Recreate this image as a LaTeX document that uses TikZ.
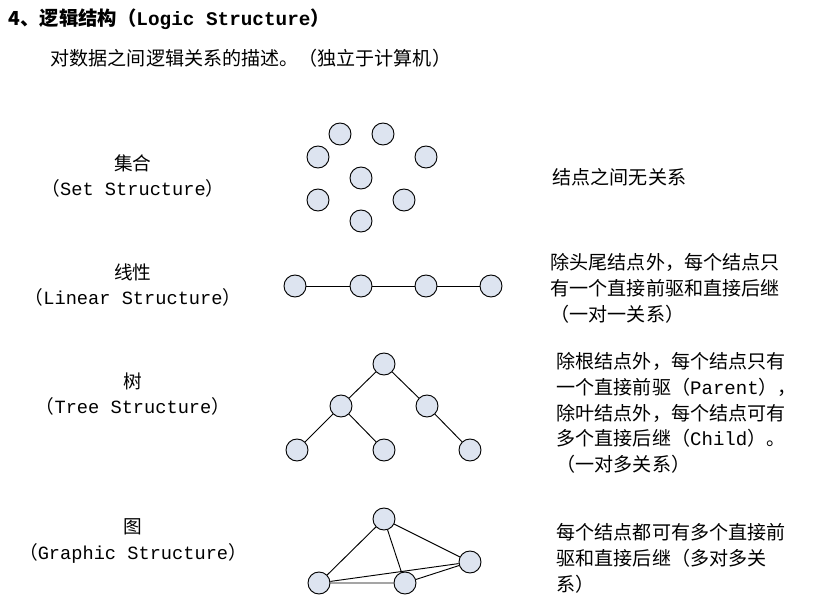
\documentclass[tikz,border=0pt]{standalone}
\usepackage{fontspec}
\setmainfont{Noto Sans CJK SC}
\newfontfamily\lat{Liberation Mono}
\begin{document}
\begin{tikzpicture}[x=0.75pt,y=-0.75pt,
  nd/.style={circle,draw=black,fill=nodefill,minimum size=16.5pt,inner sep=0pt,line width=0.7pt},
  ln/.style={line width=0.7pt},
  lab/.style={align=center,font=\fontsize{14}{19}\selectfont},
  rt/.style={anchor=north west,align=left,font=\fontsize{14.3}{19.2}\selectfont}]
\definecolor{nodefill}{HTML}{DDE4F0}
\useasboundingbox (0,0) rectangle (840,605);
\node[anchor=west,font=\fontsize{14.5}{18}\selectfont\bfseries] (title) at (4,19) {4、逻辑结构（{\lat\bfseries Logic Structure}）};
\node[anchor=west,font=\fontsize{14.3}{18}\selectfont] (sub) at (46,58) {对数据之间逻辑关系的描述。（独立于计算机）};
% set
\node[lab] (l1) at (133,176) {集合\\（{\lat Set Structure}）};
\foreach \n/\x/\y in {a/340/134,b/383/134,c/318/157,d/426/157,e/361/178,f/318/200,g/404/200,h/361/221}
  \node[nd] (s\n) at (\x,\y) {};
\node[rt] (r1) at (548,164) {结点之间无关系};
% linear
\node[lab] (l2) at (133,285) {线性\\（{\lat Linear Structure}）};
\foreach \n/\x in {1/295,2/361,3/426,4/491} \node[nd] (q\n) at (\x,286) {};
\draw[ln] (q1)--(q2)--(q3)--(q4);
\node[rt] (r2) at (546,249) {除头尾结点外，每个结点只\\有一个直接前驱和直接后继\\（一对一关系）};
% tree
\node[lab] (l3) at (133,394) {树\\（{\lat Tree Structure}）};
\node[nd] (t0) at (384,364) {};
\node[nd] (t1) at (341,406) {};
\node[nd] (t2) at (427,406) {};
\node[nd] (t3) at (297,450) {};
\node[nd] (t4) at (384,450) {};
\node[nd] (t5) at (470,450) {};
\draw[ln] (t0)--(t1) (t0)--(t2) (t1)--(t3) (t1)--(t4) (t2)--(t5);
\node[rt] (r3) at (552,348) {除根结点外，每个结点只有\\一个直接前驱（{\lat Parent}），\\除叶结点外，每个结点可有\\多个直接后继（{\lat Child}）。\\（一对多关系）};
% graph
\node[lab] (l4) at (133,541) {图\\（{\lat Graphic Structure}）};
\node[nd] (g1) at (384,519) {};
\node[nd] (g2) at (470,562) {};
\node[nd] (g3) at (319,583) {};
\node[nd] (g4) at (405,583) {};
\draw[ln] (g1)--(g2) (g1)--(g3) (g1)--(g4) (g3)--(g2) (g3)--(g4) (g4)--(g2);
\node[rt] (r4) at (552,519) {每个结点都可有多个直接前\\驱和直接后继（多对多关\\系）};
\end{tikzpicture}
\end{document}
